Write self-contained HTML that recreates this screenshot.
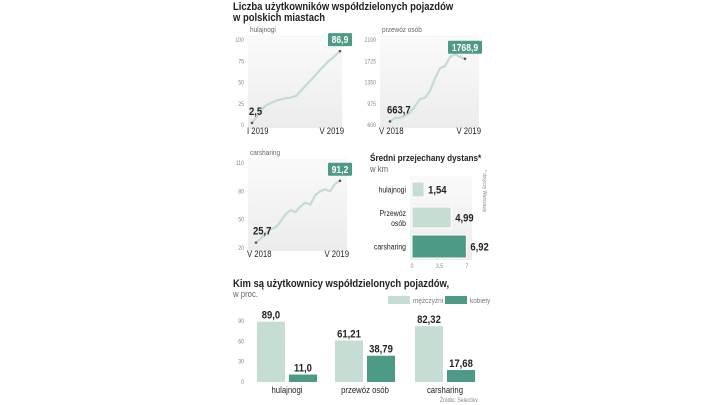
<!DOCTYPE html>
<html><head><meta charset="utf-8"><style>
body{margin:0;background:#fff;width:720px;height:405px;overflow:hidden}
svg{display:block;font-family:"Liberation Sans Narrow","Liberation Sans",sans-serif}
.t{font-weight:bold;font-size:11px;fill:#222}
.t2{font-weight:bold;font-size:9.5px;fill:#222}
.s{font-size:9px;fill:#666}
.s2{font-size:7.5px;fill:#666}
.tk{font-size:6px;fill:#888}
.xl{font-size:9px;fill:#222}
.dl{font-size:8px;fill:#222}
.v{font-weight:bold;font-size:11px;fill:#222}
</style></head><body>
<svg id="c" width="720" height="405" viewBox="0 0 720 405">
<defs><linearGradient id="pg" x1="0" y1="0" x2="0" y2="1"><stop offset="0" stop-color="#fafafa"/><stop offset="1" stop-color="#ececec"/></linearGradient></defs>
<text x="233" y="10" class="t">Liczba użytkowników współdzielonych pojazdów</text>
<text x="233" y="21" class="t">w polskich miastach</text>
<text x="370" y="161" class="t2">Średni przejechany dystans*</text>
<text x="370" y="172" class="s">w km</text>
<text transform="translate(483,170) rotate(90)" style="font-size:5.5px;fill:#888">* dotyczy Warszawy</text>
<text x="233" y="287" class="t">Kim są użytkownicy współdzielonych pojazdów,</text>
<text x="233" y="297" class="s">w proc.</text>
<rect x="388" y="296" width="22" height="8" fill="#c5ddd3"/>
<text x="413" y="303" style="font-size:7.5px;fill:#777">mężczyźni</text>
<rect x="445" y="296" width="22" height="8" fill="#4d9a86"/>
<text x="470" y="303" style="font-size:7.5px;fill:#777">kobiety</text>
<text x="478" y="402" text-anchor="end" style="font-size:6px;fill:#888">Źródło: Selectivv</text>
</svg>
<script>
const hulaValues=[2.5,12,22,26,29,31,32,34,42,50,58,66,74,80,86.9];
const hulaTicks=[0,25,50,75,100];
const przewozValues=[663.7,720,730,760,820,930,1060,1080,1200,1420,1600,1640,1800,1850,1800,1768.9];
const przewozTicks=[600,975,1350,1725,2100];
const carValues=[25.7,30,36,40,42,48,56,60,58,64,68,66,76,80,82,80,88,91.2];
const carTicks=[20,50,80,110];
const distCats=["hulajnogi","Przewóz osób","carsharing"];
const distValues=[1.54,4.99,6.92];
const distLabels=["1,54","4,99","6,92"];
const distTicks=[0,3.5,7];
const genderCats=["hulajnogi","przewóz osób","carsharing"];
const menValues=[89.0,61.21,82.32];
const womenValues=[11.0,38.79,17.68];
const menLabels=["89,0","61,21","82,32"];
const womenLabels=["11,0","38,79","17,68"];
const genderTicks=[0,30,60,90];

const svg=document.getElementById('c');
const NS='http://www.w3.org/2000/svg';
function mk(tag,attrs,txt){const e=document.createElementNS(NS,tag);for(const k in attrs)e.setAttribute(k,attrs[k]);if(txt!==undefined)e.textContent=txt;svg.appendChild(e);return e;}

function lineChart(o){
  const sy=v=>o.y0-(v-o.min)/(o.max-o.min)*(o.y0-o.y1);
  const sx=i=>o.lx0+i/(o.vals.length-1)*(o.lx1-o.lx0);
  const bg=mk('rect',{x:o.x0,y:o.y1-5,width:o.x1-o.x0,height:o.y0-o.y1+8,fill:'url(#pg)'});
  
  
  const ttl=mk('text',{x:o.x0+2,y:o.y1-8,class:'s2'},o.title);
  
  
  o.ticks.forEach(t=>{const e=mk('text',{x:o.x0-4,y:sy(t)+2,class:'tk','text-anchor':'end'},t);
    
    });
  const d=o.vals.map((v,i)=>(i?'L':'M')+sx(i).toFixed(1)+','+sy(v).toFixed(1)).join(' ');
  const p=mk('path',{d:d,fill:'none',stroke:'#c4dccf','stroke-width':2.2,'stroke-linejoin':'round'});
  
  
  const n=o.vals.length-1;
  [0,n].forEach(i=>{const c=mk('circle',{cx:sx(i),cy:sy(o.vals[i]),r:1.3,fill:'#555'});
    
    });
  const sl=mk('text',{x:sx(0)-3,y:sy(o.vals[0])-8,class:'v'},o.first);
  
  
  const ex=sx(n),ey=sy(o.vals[n]);
  const bw=o.last.length*5+4;
  const b=mk('rect',{x:ex-bw/2,y:ey-18,width:bw,height:13,fill:'#4d9a86',rx:1});
  
  
  const bt=mk('text',{x:ex,y:ey-8,'text-anchor':'middle',style:'font-weight:bold;font-size:10px;fill:#fff'},o.last);
  
  
  o.xl.forEach((l,i)=>{const e=mk('text',{x:i?o.x1+2:o.x0-1,y:o.y0+9,class:'xl','text-anchor':i?'end':'start'},l);
    
    });
}
lineChart({name:'hulajnogi',title:'hulajnogi',x0:248,x1:342,y0:125,y1:40,lx0:252,lx1:340,min:0,max:100,vals:hulaValues,ticks:hulaTicks,first:'2,5',last:'86,9',xl:['I 2019','V 2019']});
lineChart({name:'przewoz',title:'przewóz osób',x0:380,x1:479,y0:125,y1:40,lx0:390,lx1:465,min:600,max:2100,vals:przewozValues,ticks:przewozTicks,first:'663,7',last:'1768,9',xl:['V 2018','V 2019']});
lineChart({name:'carsharing',title:'carsharing',x0:248,x1:347,y0:248,y1:163,lx0:256,lx1:340,min:20,max:110,vals:carValues,ticks:carTicks,first:'25,7',last:'91,2',xl:['V 2018','V 2019']});

const dx=v=>412+v/7*55;
const dbg=mk('rect',{x:410,y:176,width:62,height:84,fill:'url(#pg)'});


const dy=[182,207,235],dh=[15,21,23],dcol=['#c5ddd3','#c5ddd3','#4d9a86'];
distValues.forEach((v,i)=>{
  const r=mk('rect',{x:dx(0),y:dy[i],width:dx(v)-dx(0),height:dh[i],fill:dcol[i],stroke:'#fff','stroke-width':1});
  
  
  const t=mk('text',{x:dx(v)+4,y:dy[i]+dh[i]/2+4,class:'v'},distLabels[i]);
  
  
  const c=distCats[i];
  if(c==='Przewóz osób'){
    const a=mk('text',{x:406,y:dy[i]+9,'text-anchor':'end',class:'dl'},'Przewóz');
    
    
    const b=mk('text',{x:406,y:dy[i]+19,'text-anchor':'end',class:'dl'},'osób');
    
    
  } else {
    const a=mk('text',{x:406,y:dy[i]+dh[i]/2+3,'text-anchor':'end',class:'dl'},c);
    
    
  }
});
distTicks.forEach(t=>{const e=mk('text',{x:dx(t),y:268,class:'tk','text-anchor':'middle'},String(t).replace('.',','));
  
  });

const gy=v=>382-v/90*61;
genderTicks.forEach(t=>{const e=mk('text',{x:244,y:gy(t)+2,class:'tk','text-anchor':'end'},t);
  
  });
const gx=[257,335,415];
genderCats.forEach((c,i)=>{
  const m=mk('rect',{x:gx[i],y:gy(menValues[i]),width:28,height:gy(0)-gy(menValues[i]),fill:'#c5ddd3'});
  
  
  const w=mk('rect',{x:gx[i]+32,y:gy(womenValues[i]),width:28,height:gy(0)-gy(womenValues[i]),fill:'#4d9a86'});
  
  
  const mt=mk('text',{x:gx[i]+14,y:gy(menValues[i])-3,'text-anchor':'middle',class:'v'},menLabels[i]);
  
  
  const wt=mk('text',{x:gx[i]+46,y:gy(womenValues[i])-3,'text-anchor':'middle',class:'v'},womenLabels[i]);
  
  
  const ct=mk('text',{x:gx[i]+30,y:393,'text-anchor':'middle',class:'xl'},c);
  
  
});
// condense all text to mimic a narrow typeface
svg.querySelectorAll('text').forEach(t=>{
  const w=t.getComputedTextLength();
  if(w>0){t.setAttribute('textLength',(w*0.86).toFixed(1));t.setAttribute('lengthAdjust','spacingAndGlyphs');}
});
</script>
</body></html>
